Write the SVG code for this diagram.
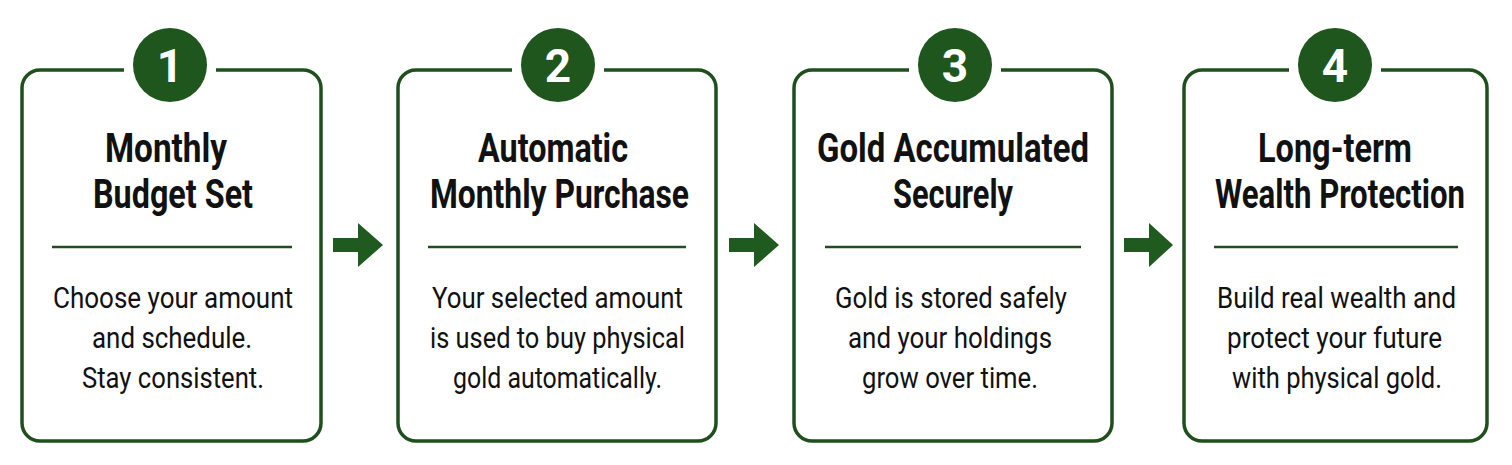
<svg xmlns="http://www.w3.org/2000/svg" width="1512" height="465" viewBox="0 0 1512 465">
<style>
.card{fill:#ffffff;stroke:#1f4f1c;stroke-width:3.5}
.div{stroke:#1f4f1c;stroke-width:2.5}
.badge{fill:#1e561d}
.gap{fill:#ffffff}
.num{font-family:Roboto,"Liberation Sans",sans-serif;font-weight:700;font-size:46px;fill:#ffffff;text-anchor:middle}
.title{font-family:Roboto,"Liberation Sans",sans-serif;font-weight:700;font-size:40px;fill:#111111;text-anchor:middle}
.body{font-family:Roboto,"Liberation Sans",sans-serif;font-weight:400;font-size:29px;fill:#111111;text-anchor:middle}
.arrow{fill:#1f5a1e}
</style>
<rect width="1512" height="465" fill="#ffffff"/>
<g id="step1">
<rect class="card" x="22" y="70" width="299" height="371" rx="18"/>
<rect class="gap" x="124" y="60" width="92" height="20"/>
<circle class="badge" cx="170" cy="65" r="37"/>
<text class="num" x="170" y="82">1</text>
<text class="title" transform="translate(166 162) scale(0.8 1)" textLength="152.5" lengthAdjust="spacingAndGlyphs">Monthly</text>
<text class="title" transform="translate(173 208) scale(0.8 1)" textLength="200" lengthAdjust="spacingAndGlyphs">Budget Set</text>
<line class="div" x1="52" y1="247" x2="292" y2="247"/>
<text class="body" transform="translate(173 308) scale(0.88 1)" textLength="272.7" lengthAdjust="spacingAndGlyphs">Choose your amount</text>
<text class="body" transform="translate(172 348) scale(0.88 1)" textLength="181.8" lengthAdjust="spacingAndGlyphs">and schedule.</text>
<text class="body" transform="translate(173 388) scale(0.88 1)" textLength="206.8" lengthAdjust="spacingAndGlyphs">Stay consistent.</text>
</g>
<g id="step2">
<rect class="card" x="398" y="70" width="318" height="371" rx="18"/>
<rect class="gap" x="512" y="60" width="92" height="20"/>
<circle class="badge" cx="558" cy="65" r="37"/>
<text class="num" x="558" y="82">2</text>
<text class="title" transform="translate(553 162) scale(0.8 1)" textLength="187.5" lengthAdjust="spacingAndGlyphs">Automatic</text>
<text class="title" transform="translate(559.5 208) scale(0.8 1)" textLength="323.75" lengthAdjust="spacingAndGlyphs">Monthly Purchase</text>
<line class="div" x1="428" y1="247" x2="686" y2="247"/>
<text class="body" transform="translate(557.5 308) scale(0.88 1)" textLength="285.2" lengthAdjust="spacingAndGlyphs">Your selected amount</text>
<text class="body" transform="translate(557.5 348) scale(0.88 1)" textLength="289.8" lengthAdjust="spacingAndGlyphs">is used to buy physical</text>
<text class="body" transform="translate(557.5 388) scale(0.88 1)" textLength="237.5" lengthAdjust="spacingAndGlyphs">gold automatically.</text>
</g>
<g id="step3">
<rect class="card" x="794" y="70" width="318" height="371" rx="18"/>
<rect class="gap" x="909" y="60" width="92" height="20"/>
<circle class="badge" cx="955" cy="65" r="37"/>
<text class="num" x="955" y="82">3</text>
<text class="title" transform="translate(953 162) scale(0.8 1)" textLength="340" lengthAdjust="spacingAndGlyphs">Gold Accumulated</text>
<text class="title" transform="translate(953 208) scale(0.8 1)" textLength="150" lengthAdjust="spacingAndGlyphs">Securely</text>
<line class="div" x1="825" y1="247" x2="1081" y2="247"/>
<text class="body" transform="translate(951 308) scale(0.88 1)" textLength="263.6" lengthAdjust="spacingAndGlyphs">Gold is stored safely</text>
<text class="body" transform="translate(950 348) scale(0.88 1)" textLength="231.8" lengthAdjust="spacingAndGlyphs">and your holdings</text>
<text class="body" transform="translate(950 388) scale(0.88 1)" textLength="200" lengthAdjust="spacingAndGlyphs">grow over time.</text>
</g>
<g id="step4">
<rect class="card" x="1184" y="70" width="303" height="371" rx="18"/>
<rect class="gap" x="1289" y="60" width="92" height="20"/>
<circle class="badge" cx="1335" cy="65" r="37"/>
<text class="num" x="1335" y="82">4</text>
<text class="title" transform="translate(1335 162) scale(0.8 1)" textLength="192.5" lengthAdjust="spacingAndGlyphs">Long-term</text>
<text class="title" transform="translate(1340 208) scale(0.8 1)" textLength="312.5" lengthAdjust="spacingAndGlyphs">Wealth Protection</text>
<line class="div" x1="1214" y1="247" x2="1458" y2="247"/>
<text class="body" transform="translate(1336.5 308) scale(0.88 1)" textLength="271.6" lengthAdjust="spacingAndGlyphs">Build real wealth and</text>
<text class="body" transform="translate(1334.5 348) scale(0.88 1)" textLength="244.3" lengthAdjust="spacingAndGlyphs">protect your future</text>
<text class="body" transform="translate(1337 388) scale(0.88 1)" textLength="238.6" lengthAdjust="spacingAndGlyphs">with physical gold.</text>
</g>
<g id="connectors">
<polygon class="arrow" points="333,238 358,238 358,223 383,245 358,267 358,252 333,252"/>
<polygon class="arrow" points="729,238 754,238 754,223 779,245 754,267 754,252 729,252"/>
<polygon class="arrow" points="1124,238 1149,238 1149,223 1173,245 1149,267 1149,252 1124,252"/>
</g>
</svg>
